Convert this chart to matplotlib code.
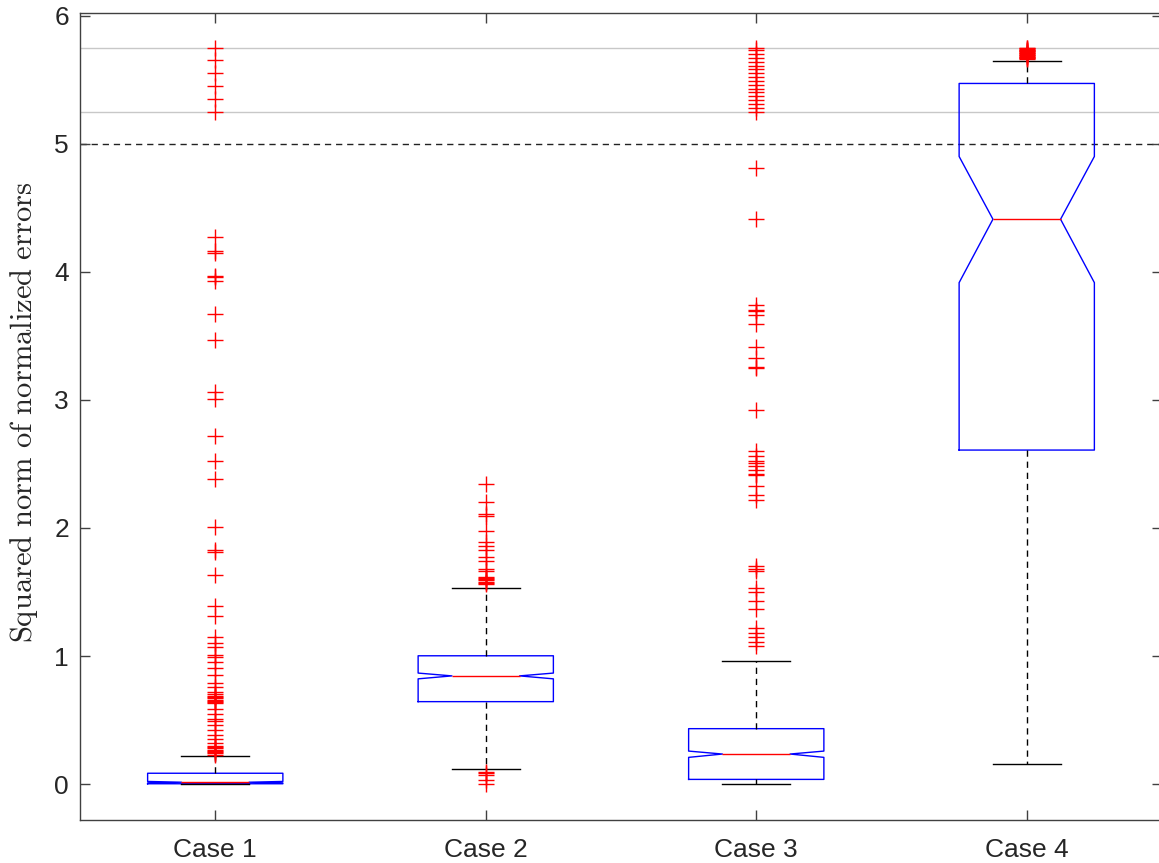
import numpy as np
import matplotlib.pyplot as plt

plt.rcParams['mathtext.fontset'] = 'cm'

labels = ['Case 1', 'Case 2', 'Case 3', 'Case 4']

# box summaries: quartiles, median, whisker ends, notch limits
q1 = [0.003, 0.644, 0.037, 2.608]
med = [0.015, 0.845, 0.235, 4.41]
q3 = [0.085, 1.002, 0.433, 5.47]
whislo = [0.0, 0.115, 0.002, 0.157]
whishi = [0.22, 1.53, 0.963, 5.649]
cilo = [0.009, 0.822, 0.209, 3.915]
cihi = [0.021, 0.867, 0.258, 4.90]

# outliers
out1 = [5.75, 5.65, 5.55, 5.45, 5.35, 5.25,
        4.27, 4.16, 4.15, 3.97, 3.96, 3.93, 3.67, 3.47, 3.06, 3.01, 2.72,
        2.52, 2.38, 2.01, 1.83, 1.81, 1.63, 1.39, 1.31,
        1.15, 1.10, 1.07, 1.01, 0.99, 0.95, 0.91, 0.85, 0.79, 0.76, 0.72,
        0.70, 0.69, 0.68, 0.67, 0.66, 0.65, 0.64, 0.63, 0.59, 0.55, 0.51,
        0.49, 0.46, 0.42, 0.38, 0.35, 0.32, 0.30, 0.29, 0.28, 0.27, 0.26,
        0.25, 0.24, 0.23]
out2 = [2.34, 2.20, 2.11, 2.09, 1.98, 1.89, 1.86, 1.83, 1.77, 1.74, 1.68,
        1.66, 1.62, 1.61, 1.60, 1.59, 1.58, 1.57, 1.56,
        0.095, 0.085, 0.075, 0.03, 0.0]
out3 = [5.75, 5.73, 5.70, 5.67, 5.64, 5.61, 5.58, 5.55, 5.52, 5.49, 5.46,
        5.43, 5.40, 5.37, 5.34, 5.31, 5.28, 5.25,
        4.81, 4.41, 3.74, 3.70, 3.69, 3.66, 3.59, 3.41, 3.33, 3.26, 3.25,
        2.92, 2.60, 2.56, 2.52, 2.51, 2.48, 2.45, 2.42, 2.41, 2.33, 2.26,
        2.22, 1.70, 1.68, 1.66, 1.53, 1.50, 1.43, 1.37, 1.22, 1.18, 1.15,
        1.11, 1.08]
out4 = [5.66, 5.665, 5.67, 5.675, 5.68, 5.685, 5.69, 5.695, 5.70, 5.705,
        5.71, 5.715, 5.72, 5.725, 5.73, 5.735, 5.74, 5.745, 5.75]
fliers = [out1, out2, out3, out4]

band_lines = [5.25, 5.75]
threshold = 5.0

stats = []
for i in range(4):
    stats.append(dict(q1=q1[i], med=med[i], q3=q3[i], whislo=whislo[i],
                      whishi=whishi[i], cilo=cilo[i], cihi=cihi[i],
                      fliers=fliers[i], label=labels[i]))

fig = plt.figure(figsize=(11.59, 8.63), dpi=100)
ax = fig.add_axes([80 / 1159, 43 / 863, 1082 / 1159, 807 / 863])

for y in band_lines:
    ax.axhline(y, color='#c8c8c8', lw=1.0, zorder=0)
ax.axhline(threshold, color='#222222', lw=1.0, ls=(0, (4.5, 3.5)), zorder=1)

ax.bxp(stats, positions=[1, 2, 3, 4], widths=0.5, shownotches=True,
       boxprops=dict(color='blue', lw=1.0),
       medianprops=dict(color='red', lw=1.0),
       whiskerprops=dict(color='black', lw=1.0, ls=(0, (4.5, 3.5))),
       capprops=dict(color='black', lw=1.0),
       flierprops=dict(marker='+', markeredgecolor='red', markersize=12,
                       markeredgewidth=1.0, linestyle='none'))

ax.set_xlim(0.5, 4.5)
ax.set_ylim(-0.28, 6.02)
ax.set_yticks(range(7))

for s in ax.spines.values():
    s.set_color('#404040')
    s.set_linewidth(1.0)
ax.tick_params(direction='in', length=7.5, width=1.0, color='#404040',
               top=True, right=True, labelsize=19, labelcolor='#262626')
ax.tick_params(axis='y', pad=8)
ax.tick_params(axis='x', pad=13)
for t in ax.get_xticklabels() + ax.get_yticklabels():
    t.set_fontfamily('Liberation Sans')

ax.set_ylabel(r'$\mathrm{Squared\ norm\ of\ normalized\ errors}$',
              fontsize=22, color='#262626')
ax.yaxis.set_label_coords(-0.037, 0.505)

fig.savefig('out.png', dpi=100)
